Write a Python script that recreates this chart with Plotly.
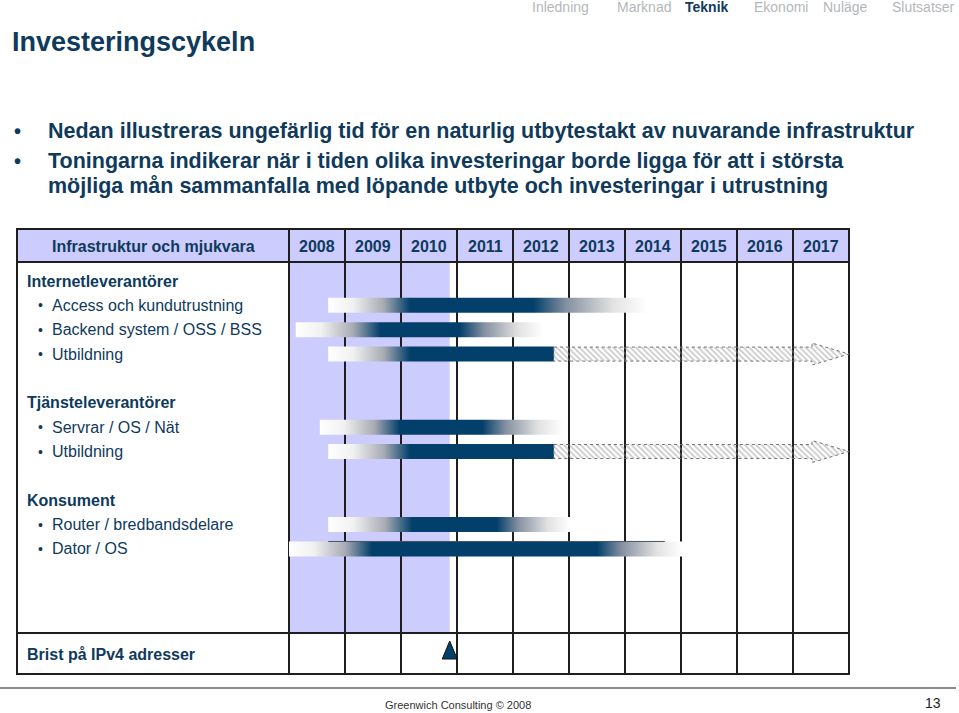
import plotly.graph_objects as go

# ---------------- data ----------------
years = list(range(2008, 2018))
year_labels = [str(y) for y in years]

nav_items = ["Inledning", "Marknad", "Teknik", "Ekonomi", "Nuläge", "Slutsatser"]
nav_active = "Teknik"

title_text = "Investeringscykeln"
intro_bullets = [
    ["Nedan illustreras ungefärlig tid för en naturlig utbytestakt av nuvarande infrastruktur"],
    ["Toningarna indikerar när i tiden olika investeringar borde ligga för att i största",
     "möjliga mån sammanfalla med löpande utbyte och investeringar i utrustning"],
]

header_label = "Infrastruktur och mjukvara"
group_names = ["Internetleverantörer", "Tjänsteleverantörer", "Konsument"]
row_labels = ["Access och kundutrustning", "Backend system / OSS / BSS", "Utbildning",
              "Servrar / OS / Nät", "Utbildning",
              "Router / bredbandsdelare", "Dator / OS"]
row_group = [0, 0, 0, 1, 1, 2, 2]

# bar extents in years (fade-in start, full colour start, full colour end, fade-out end)
bar_start = [2008.70, 2008.12, 2008.70, 2008.55, 2008.70, 2008.70, 2008.00]
full_start = [2010.16, 2009.63, 2010.16, 2009.98, 2010.16, 2010.20, 2009.48]
full_end = [2012.36, 2011.05, 2012.73, 2011.45, 2012.73, 2011.71, 2013.50]
bar_end = [2014.39, 2012.54, 2012.73, 2012.89, 2012.73, 2013.02, 2015.02]
continues_to = [None, None, 2018.0, None, 2018.0, None, None]
top_rule = [None, None, None, None, None, None, (2008.70, 2014.71)]

shade_until = 2010.87
bottom_label = "Brist på IPv4 adresser"
ipv4_shortage = 2010.87

footer_text = "Greenwich Consulting © 2008"
page_no = "13"

# ---------------- geometry / style ----------------
W, H = 959, 713
LEFT, LABEL_R, COL_W = 17, 289, 56
RIGHT = LABEL_R + COL_W * len(years)
TOP, HEAD_B, BODY_B, BOT = 229, 262, 633, 674
LINE0, LINE_STEP = 281, 24.36
BAR_H = 15

NAVY = "#033f6b"
TEXT = "#0f3a5c"
LAV = "#ccccff"
GRID = "#1e1e1e"
FONT = "Liberation Sans, Arial, Helvetica, sans-serif"


def X(px):
    return years[0] + (px - LABEL_R) / COL_W


def PX(xp):
    return xp / W


fig = go.Figure()
shapes = []
ann = []

# table background shading
shapes.append(dict(type="rect", xref="x", yref="y", x0=X(LEFT), x1=X(RIGHT), y0=TOP, y1=HEAD_B,
                   fillcolor=LAV, line_width=0, layer="below"))
shapes.append(dict(type="rect", xref="x", yref="y", x0=years[0], x1=shade_until, y0=HEAD_B, y1=BODY_B,
                   fillcolor=LAV, line_width=0, layer="below"))
# grid lines
for yv in (HEAD_B, BODY_B):
    shapes.append(dict(type="line", xref="x", yref="y", x0=X(LEFT), x1=X(RIGHT), y0=yv, y1=yv,
                       line=dict(color=GRID, width=2), layer="below"))
for k in range(len(years)):
    xv = years[0] + k
    shapes.append(dict(type="line", xref="x", yref="y", x0=xv, x1=xv, y0=TOP, y1=BOT,
                       line=dict(color=GRID, width=2), layer="below"))
shapes.append(dict(type="rect", xref="x", yref="y", x0=X(LEFT), x1=X(RIGHT), y0=TOP, y1=BOT,
                   line=dict(color=GRID, width=2), fillcolor="rgba(0,0,0,0)", layer="below"))
# footer rule
shapes.append(dict(type="line", xref="x", yref="y", x0=X(0), x1=X(W - 3), y0=688, y1=688,
                   line=dict(color="#8c8c8c", width=2), layer="below"))

# ---- bars ----
for i in range(len(row_labels)):
    line_idx = [1, 2, 3, 6, 7, 10, 11][i]
    yc = LINE0 + LINE_STEP * line_idx
    s, fs, fe, e = bar_start[i], full_start[i], full_end[i], bar_end[i]
    span = e - s
    f1 = (fs - s) / span
    f2 = (fe - s) / span
    cs = [[0.0, "#ffffff"], [0.3 * f1, "#f1f1f1"], [0.68 * f1, "#a7abb3"], [f1, NAVY], [f2, NAVY]]
    if f2 < 0.999:
        cs += [[f2 + 0.3 * (1 - f2), "#8792a2"], [f2 + 0.7 * (1 - f2), "#e2e2e2"], [1.0, "#ffffff"]]
    else:
        cs[-1][0] = 1.0
    y0, y1 = yc - BAR_H / 2, yc + BAR_H / 2
    fig.add_trace(go.Scatter(
        x=[s, e, e, s, s], y=[y0, y0, y1, y1, y0], mode="lines", fill="toself",
        fillgradient=dict(type="horizontal", colorscale=cs),
        line=dict(width=0, color="rgba(0,0,0,0)"), hoverinfo="skip", showlegend=False))
    if continues_to[i] is not None:
        end = continues_to[i]
        hs = end - 37 / COL_W
        ay0, ay1 = yc - 7, yc + 7
        fig.add_trace(go.Scatter(
            x=[fe, hs, hs, end, hs, hs, fe, fe],
            y=[ay0, ay0, yc - 11, yc, yc + 11, ay1, ay1, ay0],
            mode="lines", fill="toself",
            fillpattern=dict(shape="\\", fgcolor="#8f8f8f", bgcolor="rgba(255,255,255,0)",
                             size=4, solidity=0.4),
            line=dict(width=1, color="#6e7478", dash="dot"),
            hoverinfo="skip", showlegend=False))
    if top_rule[i] is not None:
        a, b = top_rule[i]
        fig.add_trace(go.Scatter(x=[a, b], y=[y0, y0], mode="lines",
                                 line=dict(width=1, color="#4a5560"),
                                 hoverinfo="skip", showlegend=False))

# IPv4 marker triangle
tw = 0.134
fig.add_trace(go.Scatter(
    x=[ipv4_shortage - tw, ipv4_shortage, ipv4_shortage + tw, ipv4_shortage - tw],
    y=[659, 641, 659, 659], mode="lines", fill="toself", fillcolor=NAVY,
    line=dict(width=1, color="#111111"), hoverinfo="skip", showlegend=False))

# ---------------- texts ----------------
def text(x, y, t, size, color=TEXT, bold=False, anchor="left"):
    ann.append(dict(x=PX(x), y=y, xref="paper", yref="y", text=(f"<b>{t}</b>" if bold else t),
                    showarrow=False, xanchor=anchor, yanchor="middle",
                    font=dict(family=FONT, size=size, color=color)))

# nav
nav_x = [530, 615, 683, 752, 821, 890]
for nx, item in zip(nav_x, nav_items):
    if item == nav_active:
        text(nx, 7, item, 14, color=TEXT, bold=True)
    else:
        text(nx, 7, item, 14, color="#b4b7ba")

text(10, 42, title_text, 27, bold=True)

by = 131
for blines in intro_bullets:
    text(12, by, "•", 20, bold=True)
    for ln in blines:
        text(46, by, ln, 21.5, bold=True)
        by += 25
    by += 5

# header
text((LEFT + LABEL_R) / 2, 246, header_label, 16, bold=True, anchor="center")
for k, yl in enumerate(year_labels):
    text(LABEL_R + COL_W * k + COL_W / 2, 246, yl, 16, bold=True, anchor="center")

group_line = [0, 5, 9]
for g, gname in enumerate(group_names):
    text(25, LINE0 + LINE_STEP * group_line[g], gname, 16, bold=True)
for i, lab in enumerate(row_labels):
    line_idx = [1, 2, 3, 6, 7, 10, 11][i]
    yy = LINE0 + LINE_STEP * line_idx
    text(36, yy, "•", 14)
    text(50, yy, lab, 16)

text(25, 654, bottom_label, 16, bold=True)

text(458, 705, footer_text, 11, color="#333333", anchor="center")
text(943, 703, page_no, 14, color="#222222", anchor="right")

fig.update_layout(
    width=W, height=H, margin=dict(l=0, r=0, t=0, b=0),
    paper_bgcolor="white", plot_bgcolor="white",
    xaxis=dict(range=[X(0), X(W)], domain=[0, 1], visible=False, fixedrange=True),
    yaxis=dict(range=[H, 0], domain=[0, 1], visible=False, fixedrange=True),
    shapes=shapes, annotations=ann, showlegend=False,
)

fig.write_html("out.html", config={"displayModeBar": False},
               post_script="document.body.style.margin='0';document.body.style.overflow='hidden';")
